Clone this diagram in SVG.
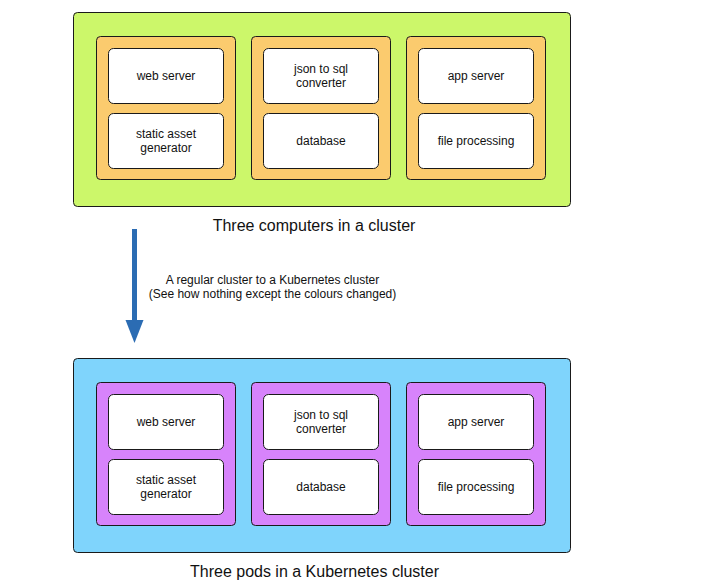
<svg xmlns="http://www.w3.org/2000/svg" width="707" height="582" viewBox="0 0 707 582">
<style>
.cluster1{fill:#ccf76a;stroke:#1a1a1a;stroke-width:1}
.cluster2{fill:#7fd4fc;stroke:#1a1a1a;stroke-width:1}
.pod1{fill:#fbcb6e;stroke:#1a1a1a;stroke-width:1}
.pod2{fill:#d783fb;stroke:#1a1a1a;stroke-width:1}
.box{fill:#ffffff;stroke:#1a1a1a;stroke-width:1}
.lbl{font-family:"Liberation Sans",Arial,sans-serif;font-size:12px;fill:#111;text-anchor:middle}
.title{font-family:"Liberation Sans",Arial,sans-serif;font-size:16px;fill:#111;text-anchor:middle}
.note{font-family:"Liberation Sans",Arial,sans-serif;font-size:12px;fill:#111;text-anchor:middle}
</style>
<rect width="707" height="582" fill="#ffffff"/>
<g id="cluster-top">
<rect class="cluster1" x="73.5" y="12.5" width="497" height="194" rx="4"/>
<text class="title" x="314" y="231">Three computers in a cluster</text>
</g>
<g id="computer1">
<rect class="pod1" x="96.5" y="36.5" width="139" height="143" rx="4"/>
</g>
<g id="computer2">
<rect class="pod1" x="251.5" y="36.5" width="139" height="143" rx="4"/>
</g>
<g id="computer3">
<rect class="pod1" x="406.5" y="36.5" width="139" height="143" rx="4"/>
</g>
<g id="t-web"><rect class="box" x="108.5" y="48.5" width="115" height="55" rx="5"/><text class="lbl" x="166" y="80">web server</text></g>
<g id="t-static"><rect class="box" x="108.5" y="113.5" width="115" height="55" rx="5"/><text class="lbl" x="166" y="138">static asset</text><text class="lbl" x="166" y="152">generator</text></g>
<g id="t-json"><rect class="box" x="263.5" y="48.5" width="115" height="55" rx="5"/><text class="lbl" x="321" y="73">json to sql</text><text class="lbl" x="321" y="87">converter</text></g>
<g id="t-db"><rect class="box" x="263.5" y="113.5" width="115" height="55" rx="5"/><text class="lbl" x="321" y="145">database</text></g>
<g id="t-app"><rect class="box" x="418.5" y="48.5" width="115" height="55" rx="5"/><text class="lbl" x="476" y="80">app server</text></g>
<g id="t-file"><rect class="box" x="418.5" y="113.5" width="115" height="55" rx="5"/><text class="lbl" x="476" y="145">file processing</text></g>

<g id="cluster-bottom">
<rect class="cluster2" x="73.5" y="358.5" width="497" height="194" rx="4"/>
<text class="title" x="314.5" y="577">Three pods in a Kubernetes cluster</text>
</g>
<g id="pod1">
<rect class="pod2" x="96.5" y="382.5" width="139" height="143" rx="4"/>
</g>
<g id="pod2">
<rect class="pod2" x="251.5" y="382.5" width="139" height="143" rx="4"/>
</g>
<g id="pod3">
<rect class="pod2" x="406.5" y="382.5" width="139" height="143" rx="4"/>
</g>
<g id="b-web"><rect class="box" x="108.5" y="394.5" width="115" height="55" rx="5"/><text class="lbl" x="166" y="426">web server</text></g>
<g id="b-static"><rect class="box" x="108.5" y="459.5" width="115" height="55" rx="5"/><text class="lbl" x="166" y="484">static asset</text><text class="lbl" x="166" y="498">generator</text></g>
<g id="b-json"><rect class="box" x="263.5" y="394.5" width="115" height="55" rx="5"/><text class="lbl" x="321" y="419">json to sql</text><text class="lbl" x="321" y="433">converter</text></g>
<g id="b-db"><rect class="box" x="263.5" y="459.5" width="115" height="55" rx="5"/><text class="lbl" x="321" y="491">database</text></g>
<g id="b-app"><rect class="box" x="418.5" y="394.5" width="115" height="55" rx="5"/><text class="lbl" x="476" y="426">app server</text></g>
<g id="b-file"><rect class="box" x="418.5" y="459.5" width="115" height="55" rx="5"/><text class="lbl" x="476" y="491">file processing</text></g>

<g id="connectors">
<line x1="134.5" y1="229" x2="134.5" y2="321" stroke="#2b6cb3" stroke-width="5"/>
<polygon points="125.5,320 143.5,320 134.5,343" fill="#2b6cb3"/>
<text class="note" x="272.5" y="284">A regular cluster to a Kubernetes cluster</text>
<text class="note" x="272.5" y="298">(See how nothing except the colours changed)</text>
</g>
</svg>
